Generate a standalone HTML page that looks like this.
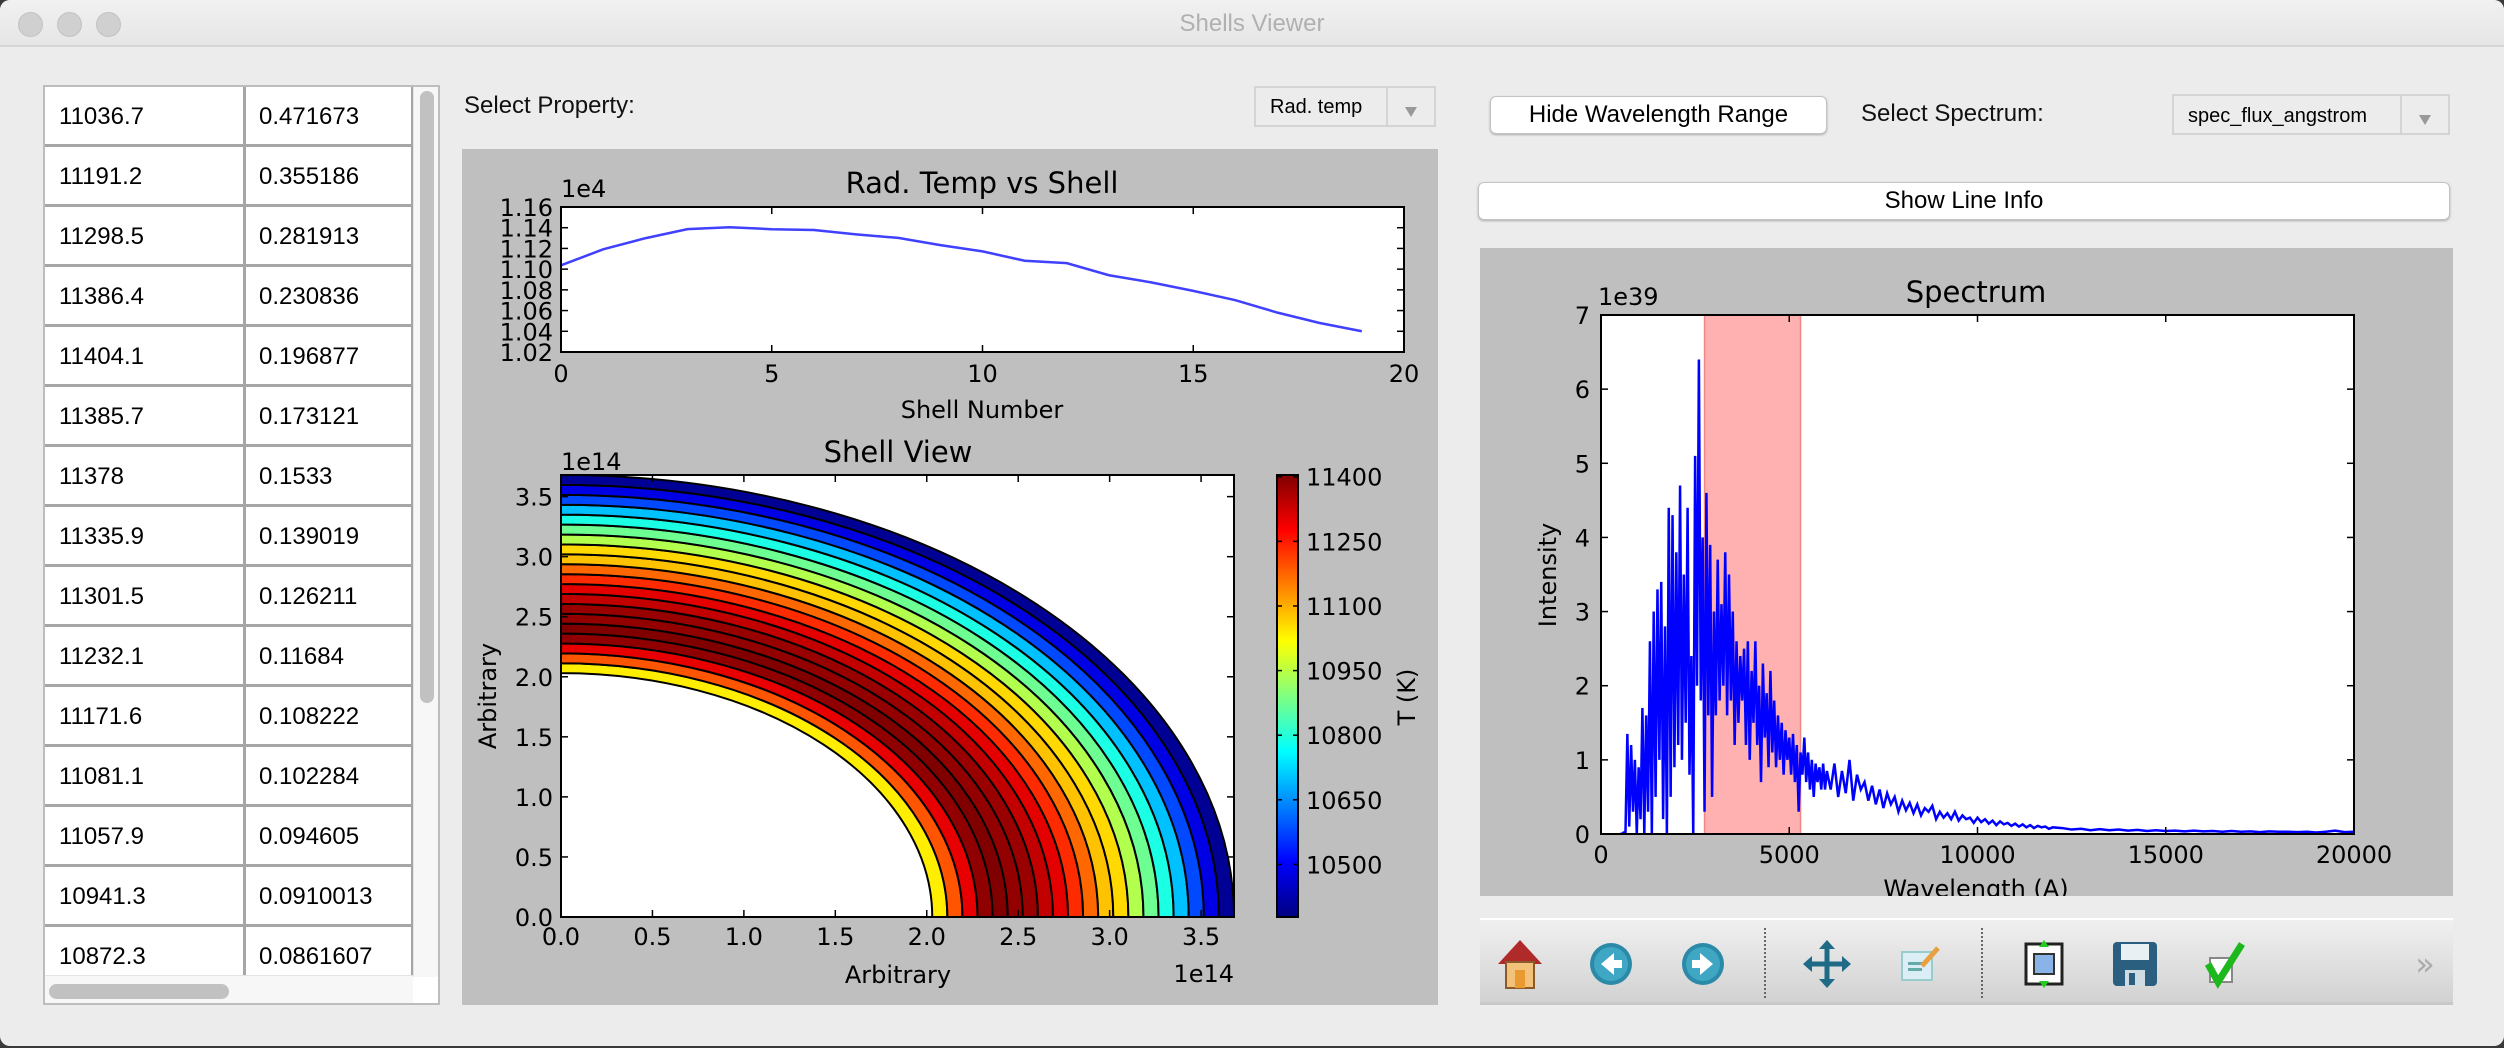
<!DOCTYPE html>
<html><head><meta charset="utf-8"><title>Shells Viewer</title>
<style>
html,body{margin:0;padding:0;width:2504px;height:1048px;overflow:hidden;background:#3a3a3a;font-family:"Liberation Sans",sans-serif;}
#win{position:absolute;left:0;top:0;width:2504px;height:1046px;background:#ececec;border-radius:10px;overflow:hidden;}
#titlebar{position:absolute;left:0;top:0;width:2504px;height:45px;background:linear-gradient(#f1f1f1,#e6e6e6);border-bottom:2px solid #d6d6d6;}
.dot{position:absolute;top:12px;width:23px;height:23px;border-radius:50%;background:#d0d0d0;border:1px solid #c2c2c2;}
#title{position:absolute;left:0;width:2504px;top:10px;text-align:center;font-size:24px;color:#b0b0b0;}
#table{position:absolute;left:43px;top:85px;width:397px;height:920px;background:#fff;border:2px solid #bdbdbd;box-sizing:border-box;overflow:hidden;}
.row{position:absolute;left:0;width:368px;height:60px;border-bottom:3px solid #a6a6a6;box-sizing:border-box;font-size:24px;}
.c1{position:absolute;left:14px;top:16px;}
.c2{position:absolute;left:214px;top:16px;}
.vline{position:absolute;left:198px;top:0;width:3px;height:890px;background:#a6a6a6;}
.rline{position:absolute;left:366px;top:0;width:2px;height:890px;background:#a6a6a6;}
#vscroll{position:absolute;left:368px;top:0;width:27px;height:890px;background:#f7f7f7;border-left:1px solid #e4e4e4;}
#vthumb{position:absolute;left:6px;top:4px;width:14px;height:612px;border-radius:7px;background:#c1c1c1;}
#hscroll{position:absolute;left:0;top:888px;width:368px;height:28px;background:#f7f7f7;border-top:1px solid #e4e4e4;}
#hthumb{position:absolute;left:4px;top:8px;width:180px;height:15px;border-radius:8px;background:#c1c1c1;}
.lbl{position:absolute;font-size:24px;color:#111;}
.combo{position:absolute;background:#ececec;border:2px solid #d4d4d4;box-sizing:border-box;font-size:20px;}
.combo .arr{position:absolute;right:0;top:0;bottom:0;width:46px;border-left:2px solid #d4d4d4;}
.combo .arr:after{content:"";position:absolute;left:17px;bottom:8px;border-left:6px solid transparent;border-right:6px solid transparent;border-top:10px solid #999;}
.btn{position:absolute;background:#fff;border:1px solid #c4c4c4;border-radius:6px;box-shadow:0 1px 2px #aaa;box-sizing:border-box;font-size:24px;text-align:center;}
.panel{position:absolute;background:#bfbfbf;}
#toolbar{position:absolute;left:1480px;top:918px;width:973px;height:87px;background:linear-gradient(#f0f0f0,#d2d2d2);border-top:2px solid #fff;border-bottom:3px solid #c8c8c8;box-sizing:border-box;}
.sep{position:absolute;top:8px;height:70px;border-left:2px dotted #666;}
#charts{position:absolute;left:0;top:0;}
</style></head>
<body>
<div id="win">
 <div id="titlebar">
  <div class="dot" style="left:18px"></div>
  <div class="dot" style="left:57px"></div>
  <div class="dot" style="left:96px"></div>
  <div id="title">Shells Viewer</div>
 </div>

 <div id="table">
  <div class="row" style="top:0"><span class="c1">11036.7</span><span class="c2">0.471673</span></div>
  <div class="row" style="top:60px"><span class="c1">11191.2</span><span class="c2">0.355186</span></div>
  <div class="row" style="top:120px"><span class="c1">11298.5</span><span class="c2">0.281913</span></div>
  <div class="row" style="top:180px"><span class="c1">11386.4</span><span class="c2">0.230836</span></div>
  <div class="row" style="top:240px"><span class="c1">11404.1</span><span class="c2">0.196877</span></div>
  <div class="row" style="top:300px"><span class="c1">11385.7</span><span class="c2">0.173121</span></div>
  <div class="row" style="top:360px"><span class="c1">11378</span><span class="c2">0.1533</span></div>
  <div class="row" style="top:420px"><span class="c1">11335.9</span><span class="c2">0.139019</span></div>
  <div class="row" style="top:480px"><span class="c1">11301.5</span><span class="c2">0.126211</span></div>
  <div class="row" style="top:540px"><span class="c1">11232.1</span><span class="c2">0.11684</span></div>
  <div class="row" style="top:600px"><span class="c1">11171.6</span><span class="c2">0.108222</span></div>
  <div class="row" style="top:660px"><span class="c1">11081.1</span><span class="c2">0.102284</span></div>
  <div class="row" style="top:720px"><span class="c1">11057.9</span><span class="c2">0.094605</span></div>
  <div class="row" style="top:780px"><span class="c1">10941.3</span><span class="c2">0.0910013</span></div>
  <div class="row" style="top:840px"><span class="c1">10872.3</span><span class="c2">0.0861607</span></div>
  <div class="vline"></div><div class="rline"></div>
  <div id="vscroll"><div id="vthumb"></div></div>
  <div id="hscroll"><div id="hthumb"></div></div>
 </div>

 <div class="lbl" style="left:464px;top:92px">Select Property:</div>
 <div class="combo" style="left:1254px;top:86px;width:182px;height:41px"><span style="position:absolute;left:14px;top:8px">Rad. temp</span><div class="arr"></div></div>

 <div class="btn" style="left:1490px;top:96px;width:337px;height:38px;line-height:36px">Hide Wavelength Range</div>
 <div class="lbl" style="left:1861px;top:100px">Select Spectrum:</div>
 <div class="combo" style="left:2172px;top:94px;width:278px;height:41px"><span style="position:absolute;left:14px;top:9px">spec_flux_angstrom</span><div class="arr"></div></div>
 <div class="btn" style="left:1478px;top:182px;width:972px;height:38px;line-height:36px">Show Line Info</div>

 <div class="panel" style="left:462px;top:149px;width:976px;height:856px"></div>
 <div class="panel" style="left:1480px;top:248px;width:973px;height:648px"></div>

 <div id="toolbar">
  <div class="sep" style="left:284px"></div><div class="sep" style="left:501px"></div>
  <svg width="973" height="87" style="position:absolute;left:0;top:0">
   <g transform="translate(40,44)">
    <polygon points="-22,0 0,-24 22,0" fill="#b02a2a"/><rect x="-14" y="-2" width="28" height="26" fill="#f2c27a" stroke="#8a5a2a" stroke-width="2"/><rect x="-5" y="6" width="10" height="18" fill="#e89a30"/>
   </g>
   <g transform="translate(131,44)">
    <circle r="21" fill="#2a8aa8"/><circle r="17" fill="#3fa6c4"/><polygon points="-10,0 3,-11 3,11" fill="#fff"/><rect x="2" y="-4" width="9" height="8" fill="#fff"/>
   </g>
   <g transform="translate(223,44)">
    <circle r="21" fill="#2a8aa8"/><circle r="17" fill="#3fa6c4"/><polygon points="10,0 -3,-11 -3,11" fill="#fff"/><rect x="-11" y="-4" width="9" height="8" fill="#fff"/>
   </g>
   <g transform="translate(347,44)" fill="#1f6a86">
    <rect x="-20" y="-2.5" width="40" height="5"/><rect x="-2.5" y="-20" width="5" height="40"/>
    <polygon points="-24,0 -15,-8 -15,8"/><polygon points="24,0 15,-8 15,8"/><polygon points="0,-24 -8,-15 8,-15"/><polygon points="0,24 -8,15 8,15"/>
   </g>
   <g transform="translate(440,44)">
    <rect x="-18" y="-12" width="30" height="28" fill="#dbeef6" stroke="#9cc" stroke-width="2"/><rect x="-12" y="-2" width="14" height="3" fill="#6aa"/><rect x="-12" y="4" width="14" height="3" fill="#6aa"/><line x1="2" y1="2" x2="18" y2="-16" stroke="#e8a040" stroke-width="5"/>
   </g>
   <g transform="translate(564,44)">
    <rect x="-18" y="-20" width="36" height="40" fill="#fff" stroke="#222" stroke-width="3"/><rect x="-10" y="-10" width="20" height="20" fill="#8ab4e8" stroke="#333" stroke-width="2"/><polygon points="0,-24 -5,-17 5,-17" fill="#2c2"/><polygon points="0,24 -5,17 5,17" fill="#2c2"/>
   </g>
   <g transform="translate(655,44)">
    <rect x="-22" y="-22" width="44" height="44" rx="4" fill="#2a5f80"/><rect x="-14" y="-20" width="28" height="16" fill="#e8f0f4"/><rect x="-10" y="6" width="20" height="16" fill="#cfdce4"/><rect x="-6" y="9" width="6" height="12" fill="#2a5f80"/>
   </g>
   <g transform="translate(746,44)">
    <rect x="-16" y="-6" width="22" height="24" fill="#fff" stroke="#888" stroke-width="2"/><polyline points="-18,0 -8,18 16,-20" fill="none" stroke="#1cb81c" stroke-width="7"/>
   </g>
   <text x="945" y="55" font-size="32" fill="#aaa" text-anchor="middle" font-family="DejaVu Sans">»</text>
  </svg>
 </div>
</div>

<svg id="charts" width="2504" height="1048" xmlns="http://www.w3.org/2000/svg" font-family="DejaVu Sans, sans-serif"></svg>

<script>
// ---- Rad temp vs shell data ----
const shellNumbers = [0,1,2,3,4,5,6,7,8,9,10,11,12,13,14,15,16,17,18,19];
const radTemps = [11036.7,11191.2,11298.5,11386.4,11404.1,11385.7,11378,11335.9,11301.5,11232.1,11171.6,11081.1,11057.9,10941.3,10872.3,10790,10700,10580,10480,10400];
const tempYTicks = [1.02,1.04,1.06,1.08,1.10,1.12,1.14,1.16];
const tempXTicks = [0,5,10,15,20];
// ---- Shell view data (radii in 1e14) ----
const shellRadii = [2.03,2.1125,2.195,2.2775,2.36,2.4425,2.525,2.6075,2.69,2.7725,2.855,2.9375,3.02,3.1025,3.185,3.2675,3.35,3.4325,3.515,3.5975,3.68];
const shellTicks = [0.0,0.5,1.0,1.5,2.0,2.5,3.0,3.5];
const cbarTicks = [10500,10650,10800,10950,11100,11250,11400];
// ---- Spectrum data (flux in 1e39) ----
const specFluxFine = [0,0,0.02,0.02,1.35,0.1,1.2,0.3,1.0,0.0,0.9,0.2,1.7,0.0,1.6,0.3,2.6,0.0,3.0,0.5,3.3,1.0,3.4,0.2,2.8,0.0,4.4,0.5,4.3,0.9,3.8,1.2,4.7,1.0,3.5,1.5,4.4,0.8,2.4,0.0,5.1,2.0,6.4,1.8,4.0,0.3,4.6,1.6,3.9,0.5,3.0,1.6,3.7,1.8,3.1,2.0,3.8,1.6,3.5,1.8,3.0,1.2,2.6,1.5,2.4,1.8,2.5,1.2,2.6,1.0,2.2,1.5,2.6,1.2,2.0,0.7,2.3,1.3,1.9,0.9,2.2,1.1,1.8,0.9,1.6,1.0,1.5,0.8,1.4,1.0,1.3,0.8,1.35,0.7,1.2,0.3,1.1,0.8,1.3,0.7,1.1,0.6,1.0,0.5,0.95,0.7,0.9,0.6,0.95,0.6,0.85];
const specFluxMid = [0.6,0.95,0.5,0.85,0.55,1.0,0.45,0.8,0.6,0.7,0.45,0.65,0.4,0.6,0.35,0.55,0.4,0.5,0.3,0.45,0.32,0.42,0.28,0.4,0.25,0.35,0.3,0.38,0.2,0.3,0.22,0.28,0.2,0.3,0.18,0.25,0.2,0.22,0.15,0.22,0.16,0.2,0.14,0.18,0.12,0.17,0.13,0.15,0.11,0.14,0.1,0.13,0.09,0.12,0.08,0.11,0.09,0.1,0.07,0.09];
const specFluxTail = [0.08,0.06,0.07,0.05,0.065,0.05,0.06,0.045,0.055,0.04,0.05,0.04,0.045,0.035,0.045,0.035,0.04,0.03,0.04,0.03,0.035,0.025,0.035,0.03,0.03,0.025,0.03,0.02,0.03,0.045,0.025,0.03];
const fineStart = 500, fineStep = 50, midStart = 6100, midStep = 100, tailStart = 12250, tailStep = 250;
const wavelengthRange = [2750, 5300];
const specXTicks = [0,5000,10000,15000,20000];
const specYTicks = [0,1,2,3,4,5,6,7];

const NS = "http://www.w3.org/2000/svg";
const svg = document.getElementById('charts');
function el(tag, attrs, parent, txt){
  const e = document.createElementNS(NS, tag);
  for (const k in attrs) e.setAttribute(k, attrs[k]);
  if (txt !== undefined) e.textContent = txt;
  (parent || svg).appendChild(e);
  return e;
}
function lin(d0,d1,r0,r1){ return v => r0 + (v-d0)/(d1-d0)*(r1-r0); }
function jet(t){
  t = Math.max(0, Math.min(1, t));
  const r = Math.max(0, Math.min(1, Math.min(4*t-1.5, -4*t+4.5)));
  const g = Math.max(0, Math.min(1, Math.min(4*t-0.5, -4*t+3.5)));
  const b = Math.max(0, Math.min(1, Math.min(4*t+0.5, -4*t+2.5)));
  return `rgb(${Math.round(r*255)},${Math.round(g*255)},${Math.round(b*255)})`;
}

// ===== Chart 1: Rad temp vs shell =====
{
  const L=561,R=1404,T=207,B=352;
  const x = lin(0,20,L,R), y = lin(10200,11600,B,T);
  const g = el('g',{});
  
  
  el('rect',{x:L,y:T,width:R-L,height:B-T,fill:'#fff'},g);
  const pts = shellNumbers.map((s,i)=>x(s)+','+y(radTemps[i])).join(' ');
  const line = el('polyline',{points:pts,fill:'none',stroke:'#4040ff','stroke-width':2.5},g);
  
  
  tempXTicks.forEach(v=>{
    el('line',{x1:x(v),x2:x(v),y1:B,y2:B-7,stroke:'#000','stroke-width':1.5},g);
    el('line',{x1:x(v),x2:x(v),y1:T,y2:T+7,stroke:'#000','stroke-width':1.5},g);
    const t = el('text',{x:x(v),y:382,'font-size':24,'text-anchor':'middle'},g,String(v));
    
    
  });
  tempYTicks.forEach(v=>{
    const yy = y(v*10000);
    el('line',{x1:L,x2:L+7,y1:yy,y2:yy,stroke:'#000','stroke-width':1.5},g);
    el('line',{x1:R,x2:R-7,y1:yy,y2:yy,stroke:'#000','stroke-width':1.5},g);
    const t = el('text',{x:553,y:yy+9,'font-size':24,'text-anchor':'end'},g,v.toFixed(2));
    
    
  });
  el('rect',{x:L,y:T,width:R-L,height:B-T,fill:'none',stroke:'#000','stroke-width':2},g);
  el('text',{x:561,y:197,'font-size':24},g,'1e4');
  const tt = el('text',{x:982,y:193,'font-size':29,'text-anchor':'middle'},g,'Rad. Temp vs Shell');
  
  
  const xl = el('text',{x:982,y:418,'font-size':24,'text-anchor':'middle'},g,'Shell Number');
  
  
  const cp = el('clipPath',{id:'c1'},svg); el('rect',{x:462,y:149,width:976,height:856},cp);
  const yl = el('text',{x:0,y:0,'font-size':24,'text-anchor':'middle',transform:'translate(483,285) rotate(-90)','clip-path':'url(#c1)'},g,'Rad. Temp (K)');
  
  
}

// ===== Chart 2: Shell view =====
{
  const L=561,R=1234,T=475,B=917;
  const sx = lin(0,3.68,L,R), sy = lin(0,3.68,B,T);
  const vmin = 10378, vmax = 11404;
  const g = el('g',{});
  
  
  el('rect',{x:L,y:T,width:R-L,height:B-T,fill:'#fff'},g);
  const cp = el('clipPath',{id:'c2'},svg); el('rect',{x:L,y:T,width:R-L,height:B-T},cp);
  const rings = el('g',{'clip-path':'url(#c2)'},g);
  radTemps.forEach((tK,i)=>{
    const r0 = shellRadii[i], r1 = shellRadii[i+1];
    const ax0 = sx(r0)-sx(0), ay0 = sy(0)-sy(r0), ax1 = sx(r1)-sx(0), ay1 = sy(0)-sy(r1);
    const d = `M${sx(r0)},${B} L${sx(r1)},${B} A${ax1},${ay1} 0 0 0 ${L},${B-ay1} L${L},${B-ay0} A${ax0},${ay0} 0 0 1 ${sx(r0)},${B} Z`;
    const p = el('path',{d:d,fill:jet((tK-vmin)/(vmax-vmin)),stroke:'#000','stroke-width':2},rings);
    
    
  });
  shellTicks.forEach(v=>{
    el('line',{x1:sx(v),x2:sx(v),y1:B,y2:B-7,stroke:'#000','stroke-width':1.5},g);
    el('line',{x1:sx(v),x2:sx(v),y1:T,y2:T+7,stroke:'#000','stroke-width':1.5},g);
    el('line',{x1:L,x2:L+7,y1:sy(v),y2:sy(v),stroke:'#000','stroke-width':1.5},g);
    el('line',{x1:R,x2:R-7,y1:sy(v),y2:sy(v),stroke:'#000','stroke-width':1.5},g);
    const a = el('text',{x:sx(v),y:945,'font-size':24,'text-anchor':'middle'},g,v.toFixed(1));
    
    
    const b = el('text',{x:553,y:sy(v)+9,'font-size':24,'text-anchor':'end'},g,v.toFixed(1));
    
    
  });
  el('rect',{x:L,y:T,width:R-L,height:B-T,fill:'none',stroke:'#000','stroke-width':2},g);
  el('text',{x:561,y:470,'font-size':24},g,'1e14');
  el('text',{x:1234,y:982,'font-size':24,'text-anchor':'end'},g,'1e14');
  const tt = el('text',{x:898,y:462,'font-size':29,'text-anchor':'middle'},g,'Shell View');
  
  
  const xl = el('text',{x:898,y:983,'font-size':24,'text-anchor':'middle'},g,'Arbitrary');
  
  
  const yl = el('text',{x:0,y:0,'font-size':24,'text-anchor':'middle',transform:'translate(496,696) rotate(-90)'},g,'Arbitrary');
  
  
  const CL=1277,CR=1298;
  const cy = lin(vmin,vmax,B,T);
  const defs = el('defs',{},svg);
  const grad = el('linearGradient',{id:'jetg',x1:0,y1:1,x2:0,y2:0},defs);
  for(let k=0;k<=16;k++){ el('stop',{offset:k/16,'stop-color':jet(k/16)},grad); }
  const cb = el('rect',{x:CL,y:T,width:CR-CL,height:B-T,fill:'url(#jetg)',stroke:'#000','stroke-width':2},g);
  
  
  cbarTicks.forEach(v=>{
    el('line',{x1:CL,x2:CL+5,y1:cy(v),y2:cy(v),stroke:'#000','stroke-width':1.5},g);
    el('line',{x1:CR,x2:CR-5,y1:cy(v),y2:cy(v),stroke:'#000','stroke-width':1.5},g);
    const t = el('text',{x:1306,y:cy(v)+9,'font-size':24},g,String(v));
    
    
  });
  const cl = el('text',{x:0,y:0,'font-size':24,'text-anchor':'middle',transform:'translate(1415,697) rotate(-90)'},g,'T (K)');
  
  
}

// ===== Chart 3: Spectrum =====
{
  const L=1601,R=2354,T=315,B=834;
  const x = lin(0,20000,L,R), y = lin(0,7,B,T);
  const g = el('g',{});
  
  
  el('rect',{x:L,y:T,width:R-L,height:B-T,fill:'#fff'},g);
  const band = el('rect',{x:x(wavelengthRange[0]),y:T,width:x(wavelengthRange[1])-x(wavelengthRange[0]),height:B-T,fill:'#ffb0b0',stroke:'#f08888','stroke-width':1.5},g);
  
  
  const pts = [];
  specFluxFine.forEach((f,i)=>pts.push(x(fineStart+i*fineStep)+','+y(f)));
  specFluxMid.forEach((f,i)=>pts.push(x(midStart+i*midStep)+','+y(f)));
  specFluxTail.forEach((f,i)=>pts.push(x(tailStart+i*tailStep)+','+y(f)));
  const cp = el('clipPath',{id:'c3'},svg); el('rect',{x:L,y:T,width:R-L,height:B-T},cp);
  const line = el('polyline',{points:pts.join(' '),fill:'none',stroke:'#0000ff','stroke-width':2.5,'stroke-linejoin':'miter','clip-path':'url(#c3)'},g);
  
  
  specXTicks.forEach(v=>{
    el('line',{x1:x(v),x2:x(v),y1:B,y2:B-7,stroke:'#000','stroke-width':1.5},g);
    el('line',{x1:x(v),x2:x(v),y1:T,y2:T+7,stroke:'#000','stroke-width':1.5},g);
    const t = el('text',{x:x(v),y:863,'font-size':24,'text-anchor':'middle'},g,String(v));
    
    
  });
  specYTicks.forEach(v=>{
    el('line',{x1:L,x2:L+7,y1:y(v),y2:y(v),stroke:'#000','stroke-width':1.5},g);
    el('line',{x1:R,x2:R-7,y1:y(v),y2:y(v),stroke:'#000','stroke-width':1.5},g);
    const t = el('text',{x:1590,y:y(v)+9,'font-size':24,'text-anchor':'end'},g,String(v));
    
    
  });
  el('rect',{x:L,y:T,width:R-L,height:B-T,fill:'none',stroke:'#000','stroke-width':2},g);
  el('text',{x:1598,y:305,'font-size':24},g,'1e39');
  const tt = el('text',{x:1976,y:302,'font-size':29,'text-anchor':'middle'},g,'Spectrum');
  
  
  const cpp = el('clipPath',{id:'c4'},svg); el('rect',{x:1480,y:248,width:973,height:648},cpp);
  const xl = el('text',{x:1976,y:897,'font-size':24,'text-anchor':'middle','clip-path':'url(#c4)'},g,'Wavelength (A)');
  
  
  const yl = el('text',{x:0,y:0,'font-size':24,'text-anchor':'middle',transform:'translate(1556,575) rotate(-90)'},g,'Intensity');
  
  
}
</script>
</body></html>
